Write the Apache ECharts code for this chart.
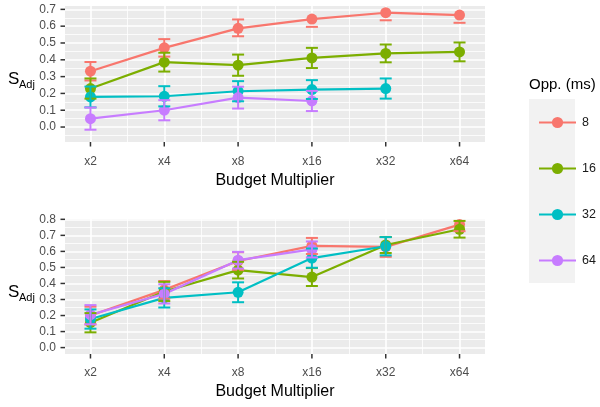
<!DOCTYPE html>
<html>
<head>
<meta charset="utf-8">
<script src="https://cdn.jsdelivr.net/npm/echarts@6/dist/echarts.min.js"></script>
<style>
html, body { margin: 0; padding: 0; background: #fff; }
#chart { width: 600px; height: 407px; }
</style>
</head>
<body>
<div id="chart"></div>
<script>
var budgets = ['x2', 'x4', 'x8', 'x16', 'x32', 'x64'];
var opponents = ['8', '16', '32', '64'];
var colors = ['#F8766D', '#7CAE00', '#00BFC4', '#C77CFF'];

var yTicksTop = [0.0, 0.1, 0.2, 0.3, 0.4, 0.5, 0.6, 0.7];
var yTicksBottom = [0.0, 0.1, 0.2, 0.3, 0.4, 0.5, 0.6, 0.7, 0.8];

// top panel: means, lower / upper error (null = upper bar not drawn)
var top8 = [0.332, 0.471, 0.587, 0.642, 0.680, 0.666];
var top8Lo = [0.055, 0.052, 0.047, 0.046, 0.045, 0.046];
var top8Hi = [0.055, 0.052, 0.053, null, null, null];
var top16 = [0.229, 0.386, 0.368, 0.411, 0.438, 0.447];
var top16Err = [0.060, 0.056, 0.063, 0.060, 0.053, 0.056];
var top32 = [0.179, 0.183, 0.213, 0.223, 0.229];
var top32Err = [0.062, 0.060, 0.060, 0.056, 0.060];
var top64 = [0.050, 0.100, 0.175, 0.155];
var top64Err = [0.066, 0.060, 0.065, 0.060];

// bottom panel
var bot8 = [0.200, 0.360, 0.540, 0.634, 0.628, 0.767];
var bot8Lo = [0.055, 0.055, 0.055, 0.050, 0.062, 0.041];
var bot8Hi = [0.055, 0.055, 0.055, 0.050, 0.062, null];
var bot16 = [0.155, 0.350, 0.483, 0.440, 0.640, 0.738];
var bot16Err = [0.060, 0.060, 0.052, 0.056, 0.050, 0.052];
var bot32 = [0.178, 0.310, 0.345, 0.558, 0.632];
var bot32Err = [0.060, 0.060, 0.062, 0.060, 0.057];
var bot64 = [0.205, 0.335, 0.545, 0.612];
var bot64Err = [0.060, 0.060, 0.052, 0.050];

var grids = [
    {left: 65, top: 6, width: 420, height: 136},
    {left: 65, top: 219, width: 420, height: 135}
];
var yRange = [[-0.089, 0.72], [-0.04, 0.802]];
var xRange = [-0.345, 5.345];

function mids(arr) {
    var out = [];
    for (var i = 0; i < arr.length - 1; i++) out.push(Math.round((arr[i] + arr[i + 1]) * 50) / 100);
    return out;
}

var xIdx = budgets.map(function (b, i) { return i; });

var xAxes = [], yAxes = [];
[0, 1].forEach(function (g) {
    var ticks = g === 0 ? yTicksTop : yTicksBottom;
    var yMinor = mids(ticks);
    if (g === 0) yMinor.unshift(-0.05);
    xAxes.push({
        gridIndex: g, type: 'value', position: 'bottom', min: xRange[0], max: xRange[1],
        axisLine: {show: false, onZero: false},
        axisTick: {show: false, customValues: xIdx},
        axisLabel: {customValues: xIdx, formatter: function (v) { return budgets[Math.round(v)]; },
            color: '#4D4D4D', fontSize: 12, margin: g === 0 ? 14 : 13, fontFamily: 'Liberation Sans'},
        splitLine: {show: true, lineStyle: {color: '#ffffff', width: 1.6}},
        name: 'Budget Multiplier', nameLocation: 'middle', nameGap: g === 0 ? 31 : 30,
        nameTextStyle: {fontSize: 16, color: '#000000', fontFamily: 'Liberation Sans'}
    });
    xAxes.push({
        gridIndex: g, type: 'value', position: 'top', min: xRange[0], max: xRange[1],
        axisLine: {show: false, onZero: false},
        axisTick: {show: false, customValues: mids(xIdx)},
        axisLabel: {show: false},
        splitLine: {show: true, lineStyle: {color: '#ffffff', width: 0.8}}
    });
    yAxes.push({
        gridIndex: g, type: 'value', position: 'left', min: yRange[g][0], max: yRange[g][1],
        axisLine: {show: false, onZero: false},
        axisTick: {show: false, customValues: ticks},
        axisLabel: {customValues: ticks, formatter: function (v) { return v.toFixed(1); },
            color: '#4D4D4D', fontSize: 12, margin: 9, fontFamily: 'Liberation Sans'},
        splitLine: {show: true, lineStyle: {color: '#ffffff', width: 1.6}}
    });
    yAxes.push({
        gridIndex: g, type: 'value', position: 'right', min: yRange[g][0], max: yRange[g][1],
        axisLine: {show: false, onZero: false},
        axisTick: {show: false, customValues: yMinor},
        axisLabel: {show: false},
        splitLine: {show: true, lineStyle: {color: '#ffffff', width: 0.8}}
    });
});

function lineSeries(k, values, g) {
    return {
        name: opponents[k], type: 'line', xAxisIndex: g * 2, yAxisIndex: g * 2,
        data: values.map(function (v, i) { return [i, v]; }),
        symbol: 'circle', symbolSize: 11, showSymbol: true,
        lineStyle: {width: 2.2, color: colors[k]},
        itemStyle: {color: colors[k], borderWidth: 0},
        emphasis: {disabled: true}, z: 3, animation: false
    };
}

function errSeries(k, values, lo, hi, g) {
    var color = colors[k];
    return {
        name: opponents[k], type: 'custom', xAxisIndex: g * 2, yAxisIndex: g * 2,
        clip: true, z: 4, animation: false,
        encode: {x: 0, y: [1, 2]},
        data: values.map(function (v, i) {
            var h = hi[i];
            return [i, v - lo[i], h == null ? v - lo[i] : v + h, h == null ? 0 : 1];
        }),
        renderItem: function (params, api) {
            var a = api.coord([api.value(0), api.value(1)]);
            var b = api.coord([api.value(0), api.value(2)]);
            var w = 6;
            var st = {stroke: color, lineWidth: 2};
            var kids = [{type: 'line', shape: {x1: a[0] - w, y1: a[1], x2: a[0] + w, y2: a[1]}, style: st}];
            if (api.value(3)) {
                kids.push({type: 'line', shape: {x1: a[0], y1: a[1], x2: b[0], y2: b[1]}, style: st});
                kids.push({type: 'line', shape: {x1: b[0] - w, y1: b[1], x2: b[0] + w, y2: b[1]}, style: st});
            }
            return {type: 'group', children: kids};
        }
    };
}

var series = [
    lineSeries(0, top8, 0), lineSeries(1, top16, 0), lineSeries(2, top32, 0), lineSeries(3, top64, 0),
    lineSeries(0, bot8, 1), lineSeries(1, bot16, 1), lineSeries(2, bot32, 1), lineSeries(3, bot64, 1),
    errSeries(0, top8, top8Lo, top8Hi, 0), errSeries(1, top16, top16Err, top16Err, 0),
    errSeries(2, top32, top32Err, top32Err, 0), errSeries(3, top64, top64Err, top64Err, 0),
    errSeries(0, bot8, bot8Lo, bot8Hi, 1), errSeries(1, bot16, bot16Err, bot16Err, 1),
    errSeries(2, bot32, bot32Err, bot32Err, 1), errSeries(3, bot64, bot64Err, bot64Err, 1)
];

function yTitle(cy) {
    return [
        {type: 'text', left: 8, top: cy - 10, style: {text: 'S', fontSize: 17, fill: '#000', fontFamily: 'Liberation Sans'}},
        {type: 'text', left: 19, top: cy - 2, style: {text: 'Adj', fontSize: 11, fill: '#000', fontFamily: 'Liberation Sans'}}
    ];
}

var baseGraphic = [
    {type: 'rect', left: 529, top: 99, shape: {width: 46, height: 184}, style: {fill: '#F2F2F2'}, z: -1},
    {type: 'text', left: 529, top: 77, style: {text: 'Opp. (ms)', fontSize: 15, fill: '#000', fontFamily: 'Liberation Sans'}}
].concat(yTitle(81), yTitle(294));

var option = {
    backgroundColor: '#ffffff',
    animation: false,
    grid: grids.map(function (g) {
        return {left: g.left, top: g.top, width: g.width, height: g.height,
            show: true, backgroundColor: '#EBEBEB', borderWidth: 0, containLabel: false};
    }),
    xAxis: xAxes,
    yAxis: yAxes,
    legend: {
        data: opponents, orient: 'vertical', left: 533, top: 111,
        itemWidth: 37, itemHeight: 14, itemGap: 33, selectedMode: false,
        textStyle: {fontSize: 12.5, color: '#1A1A1A', padding: [0, 0, 0, 1], fontFamily: 'Liberation Sans'}
    },
    graphic: baseGraphic,
    series: series
};

var myChart = echarts.init(document.getElementById('chart'));
myChart.setOption(option);

// tick marks outside the panels, positioned via the axes' own scales
var tickMarks = [];
[0, 1].forEach(function (g) {
    var finder = {xAxisIndex: g * 2, yAxisIndex: g * 2};
    var ticks = g === 0 ? yTicksTop : yTicksBottom;
    ticks.forEach(function (v) {
        var p = myChart.convertToPixel(finder, [xRange[0], v]);
        tickMarks.push({type: 'line', z: 10, silent: true,
            shape: {x1: p[0] - 4.5, y1: p[1], x2: p[0], y2: p[1]},
            style: {stroke: '#333333', lineWidth: 1.5}});
    });
    xIdx.forEach(function (i) {
        var p = myChart.convertToPixel(finder, [i, yRange[g][0]]);
        tickMarks.push({type: 'line', z: 10, silent: true,
            shape: {x1: p[0], y1: p[1], x2: p[0], y2: p[1] + 4.5},
            style: {stroke: '#333333', lineWidth: 1.5}});
    });
});
myChart.setOption({graphic: baseGraphic.concat(tickMarks)});
</script>
</body>
</html>
